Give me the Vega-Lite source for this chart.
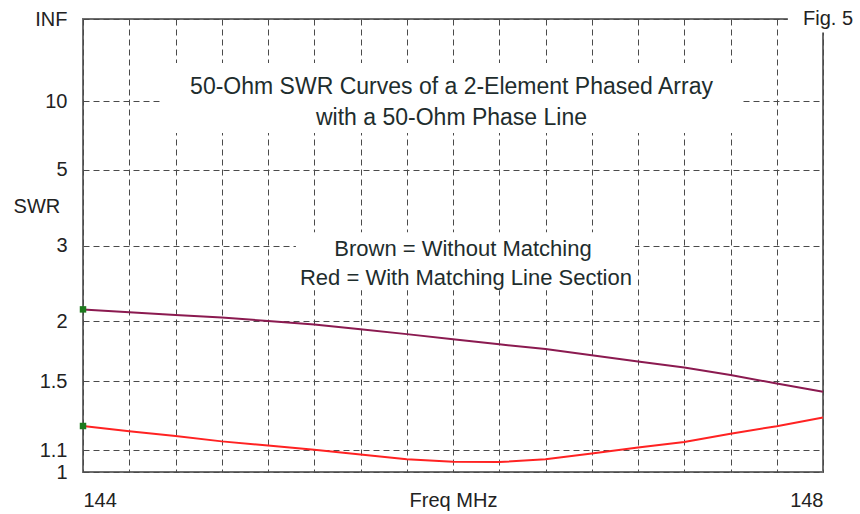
{
  "$schema": "https://vega.github.io/schema/vega-lite/v6.json",
  "width": 740,
  "height": 453,
  "autosize": {"type": "none"},
  "padding": {"left": 83, "top": 19, "right": 37, "bottom": 42},
  "background": "white",
  "config": {
    "view": {"stroke": "#6e6e6e", "strokeWidth": 2},
    "font": "Liberation Sans",
    "axis": {
      "domain": false,
      "ticks": false,
      "tickSize": 0,
      "grid": true,
      "gridColor": "#4a4a4a",
      "gridDash": [6, 4],
      "gridWidth": 1,
      "gridOpacity": 1,
      "labelFont": "Liberation Sans",
      "labelFontSize": 20,
      "labelColor": "#222222",
      "title": null,
      "labelOverlap": false
    }
  },
  "datasets": {
    "curves": [
      {"freq": 144.00, "curve": "brown", "swr": 2.12},
      {"freq": 144.25, "curve": "brown", "swr": 2.09},
      {"freq": 144.50, "curve": "brown", "swr": 2.06},
      {"freq": 144.75, "curve": "brown", "swr": 2.035},
      {"freq": 145.00, "curve": "brown", "swr": 2.00},
      {"freq": 145.25, "curve": "brown", "swr": 1.965},
      {"freq": 145.50, "curve": "brown", "swr": 1.92},
      {"freq": 145.75, "curve": "brown", "swr": 1.875},
      {"freq": 146.00, "curve": "brown", "swr": 1.83},
      {"freq": 146.25, "curve": "brown", "swr": 1.785},
      {"freq": 146.50, "curve": "brown", "swr": 1.745},
      {"freq": 146.75, "curve": "brown", "swr": 1.695},
      {"freq": 147.00, "curve": "brown", "swr": 1.645},
      {"freq": 147.25, "curve": "brown", "swr": 1.60},
      {"freq": 147.50, "curve": "brown", "swr": 1.545},
      {"freq": 147.75, "curve": "brown", "swr": 1.485},
      {"freq": 148.00, "curve": "brown", "swr": 1.43},
      {"freq": 144.00, "curve": "red", "swr": 1.226},
      {"freq": 144.25, "curve": "red", "swr": 1.198},
      {"freq": 144.50, "curve": "red", "swr": 1.173},
      {"freq": 144.75, "curve": "red", "swr": 1.145},
      {"freq": 145.00, "curve": "red", "swr": 1.124},
      {"freq": 145.25, "curve": "red", "swr": 1.103},
      {"freq": 145.50, "curve": "red", "swr": 1.08},
      {"freq": 145.75, "curve": "red", "swr": 1.058},
      {"freq": 146.00, "curve": "red", "swr": 1.046},
      {"freq": 146.25, "curve": "red", "swr": 1.045},
      {"freq": 146.50, "curve": "red", "swr": 1.058},
      {"freq": 146.75, "curve": "red", "swr": 1.085},
      {"freq": 147.00, "curve": "red", "swr": 1.114},
      {"freq": 147.25, "curve": "red", "swr": 1.142},
      {"freq": 147.50, "curve": "red", "swr": 1.185},
      {"freq": 147.75, "curve": "red", "swr": 1.225},
      {"freq": 148.00, "curve": "red", "swr": 1.273}
    ],
    "one": [{}]
  },
  "layer": [
    {
      "data": {"name": "one"},
      "mark": {"type": "rect", "fill": "white", "stroke": null},
      "encoding": {
        "x": {"datum": 144.416, "type": "quantitative", "scale": {"domain": [144, 148], "nice": false, "zero": false},
          "axis": {
            "values": [144, 144.25, 144.5, 144.75, 145, 145.25, 145.5, 145.75, 146, 146.25, 146.5, 146.75, 147, 147.25, 147.5, 147.75, 148],
            "labelExpr": "datum.value == 144 ? '144' : datum.value == 146 ? 'Freq MHz' : datum.value == 148 ? '148' : ''",
            "labelFlush": true,
            "labelPadding": 18
          }},
        "x2": {"datum": 147.562},
        "y": {"datum": 0.9028, "type": "quantitative", "scale": {"domain": [0, 1], "nice": false, "zero": false},
          "axis": {
            "values": [0, 0.047619, 0.2, 0.333333, 0.5, 0.666667, 0.818182, 1],
            "labelExpr": "datum.value > 0.99 ? 'INF' : '' + round((1 + datum.value) / (1 - datum.value) * 10) / 10",
            "labelPadding": 16
          }},
        "y2": {"datum": 0.7482}
      }
    },
    {
      "data": {"name": "one"},
      "mark": {"type": "rect", "fill": "white", "stroke": null},
      "encoding": {
        "x": {"datum": 145.151, "type": "quantitative"},
        "x2": {"datum": 146.984},
        "y": {"datum": 0.5295, "type": "quantitative"},
        "y2": {"datum": 0.4014}
      }
    },
    {
      "data": {"name": "one"},
      "mark": {"type": "rect", "fill": "white", "stroke": null, "clip": false},
      "encoding": {
        "x": {"datum": 147.81, "type": "quantitative"},
        "x2": {"datum": 148.12},
        "y": {"datum": 0.97, "type": "quantitative"},
        "y2": {"datum": 1.025}
      }
    },
    {
      "data": {"name": "one"},
      "mark": {"type": "text", "text": "50-Ohm SWR Curves of a 2-Element Phased Array", "font": "Liberation Sans", "fontSize": 23, "fill": "#1e2d2d", "align": "center", "baseline": "middle"},
      "encoding": {"x": {"datum": 145.992, "type": "quantitative"}, "y": {"datum": 0.8498, "type": "quantitative"}}
    },
    {
      "data": {"name": "one"},
      "mark": {"type": "text", "text": "with a 50-Ohm Phase Line", "font": "Liberation Sans", "fontSize": 23, "fill": "#1e2d2d", "align": "center", "baseline": "middle"},
      "encoding": {"x": {"datum": 145.992, "type": "quantitative"}, "y": {"datum": 0.7813, "type": "quantitative"}}
    },
    {
      "data": {"name": "one"},
      "mark": {"type": "text", "text": "Brown = Without Matching", "font": "Liberation Sans", "fontSize": 22, "fill": "#1e2d2d", "align": "center", "baseline": "middle"},
      "encoding": {"x": {"datum": 146.054, "type": "quantitative"}, "y": {"datum": 0.4919, "type": "quantitative"}}
    },
    {
      "data": {"name": "one"},
      "mark": {"type": "text", "text": "Red = With Matching Line Section", "font": "Liberation Sans", "fontSize": 22, "fill": "#1e2d2d", "align": "center", "baseline": "middle"},
      "encoding": {"x": {"datum": 146.07, "type": "quantitative"}, "y": {"datum": 0.4278, "type": "quantitative"}}
    },
    {
      "data": {"name": "one"},
      "mark": {"type": "text", "text": "SWR", "font": "Liberation Sans", "fontSize": 20, "fill": "#222222", "align": "center", "baseline": "middle"},
      "encoding": {"x": {"datum": 143.751, "type": "quantitative"}, "y": {"datum": 0.5847, "type": "quantitative"}}
    },
    {
      "data": {"name": "one"},
      "mark": {"type": "text", "text": "Fig. 5", "font": "Liberation Sans", "fontSize": 20, "fill": "#222222", "align": "center", "baseline": "alphabetic"},
      "encoding": {"x": {"datum": 148.027, "type": "quantitative"}, "y": {"datum": 0.9867, "type": "quantitative"}}
    },
    {
      "data": {"name": "curves"},
      "transform": [{"calculate": "(datum.swr - 1) / (datum.swr + 1)", "as": "rho"}],
      "mark": {"type": "line", "strokeWidth": 2, "interpolate": "linear"},
      "encoding": {
        "x": {"field": "freq", "type": "quantitative"},
        "y": {"field": "rho", "type": "quantitative"},
        "color": {"field": "curve", "type": "nominal", "scale": {"domain": ["brown", "red"], "range": ["#8b1a50", "#ff2222"]}, "legend": null}
      }
    },
    {
      "data": {"name": "curves"},
      "transform": [{"calculate": "(datum.swr - 1) / (datum.swr + 1)", "as": "rho"}, {"filter": "datum.freq == 144"}],
      "mark": {"type": "square", "size": 42, "filled": true, "color": "#1d7a1d", "opacity": 1},
      "encoding": {
        "x": {"field": "freq", "type": "quantitative"},
        "y": {"field": "rho", "type": "quantitative"}
      }
    }
  ]
}
